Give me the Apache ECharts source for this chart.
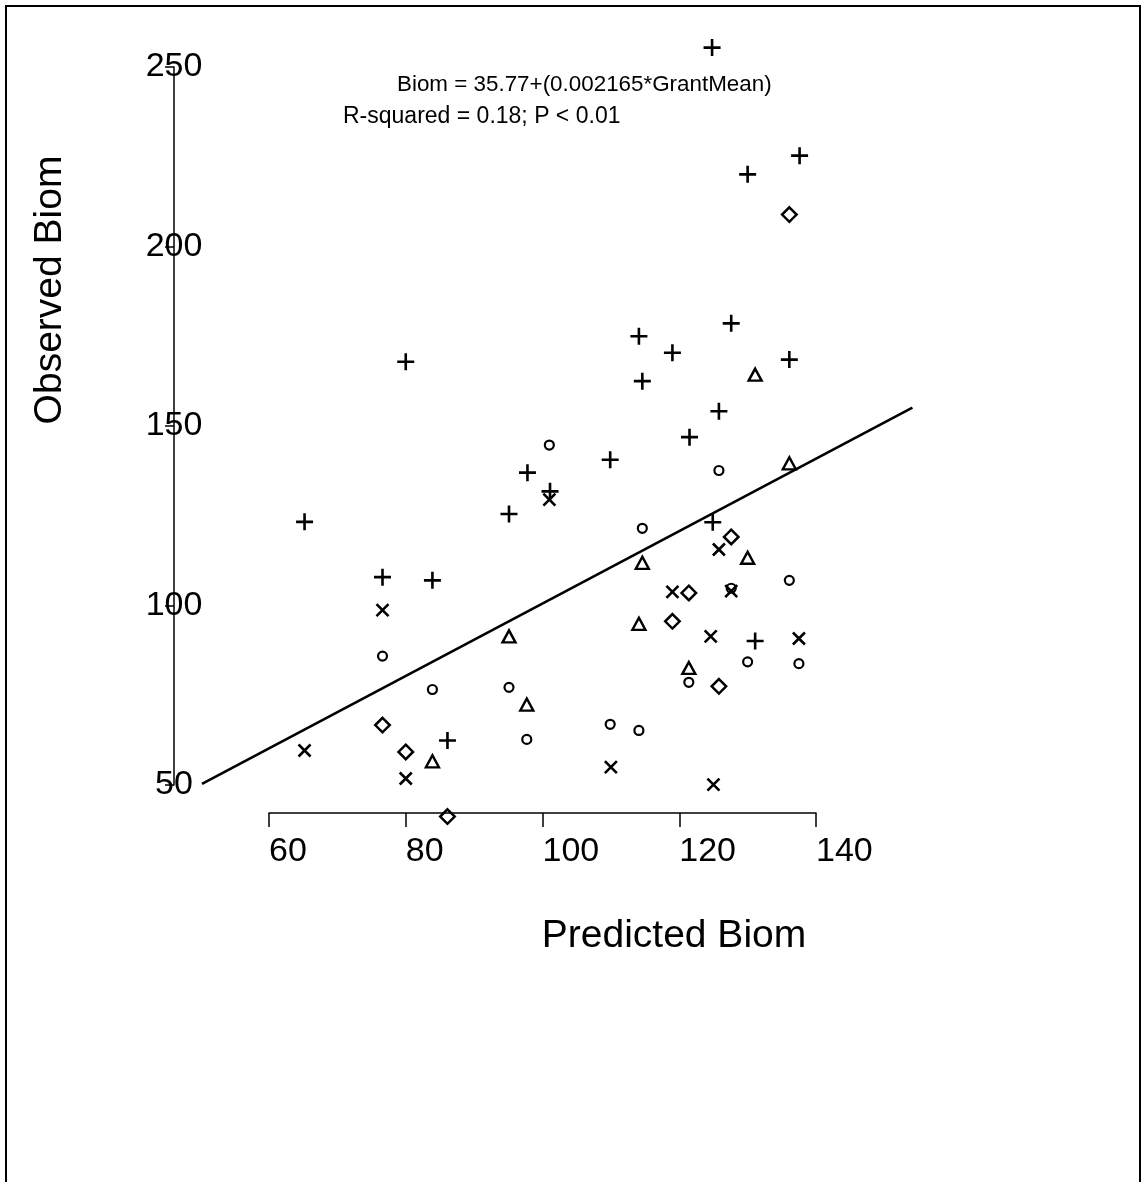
<!DOCTYPE html>
<html>
<head>
<meta charset="utf-8">
<title>Observed vs Predicted Biom</title>
<script src="https://cdn.jsdelivr.net/npm/echarts@6/dist/echarts.min.js"></script>
<style>
  html, body { margin: 0; padding: 0; background: #fff; }
  #myChart { width: 1147px; height: 1182px; }
</style>
</head>
<body>
<div id="myChart"></div>
<script>
// [predicted, observed] for each marker type
var plusPts = [
  [124.8, 255.4], [137.6, 225.3], [130.0, 220.1], [80.0, 167.9], [114.1, 175.0],
  [119.0, 170.4], [114.6, 162.5], [127.6, 178.6], [136.1, 168.5], [125.8, 154.1],
  [121.5, 146.9], [109.9, 140.6], [97.8, 137.0], [101.1, 131.8], [95.1, 125.5],
  [65.2, 123.3], [124.9, 123.2], [76.6, 107.9], [83.9, 107.0], [86.1, 62.4],
  [131.1, 90.1]
];
var crossPts = [
  [76.6, 98.7], [65.2, 59.6], [80.0, 51.8], [101.0, 129.5], [110.0, 55.0],
  [119.0, 103.8], [125.8, 115.6], [127.6, 104.0], [124.6, 91.4], [137.5, 90.8],
  [125.0, 50.1]
];
var circlePts = [
  [76.6, 85.9], [83.9, 76.6], [101.0, 144.7], [114.6, 121.5], [95.1, 77.2],
  [97.7, 62.7], [109.9, 66.9], [114.1, 65.2], [121.4, 78.6], [125.8, 137.6],
  [136.1, 107.0], [130.0, 84.3], [137.5, 83.8], [127.6, 104.8]
];
var diamondPts = [
  [76.6, 66.7], [80.0, 59.2], [86.1, 41.2], [119.0, 95.6], [121.4, 103.5],
  [127.6, 119.1], [125.8, 77.5], [136.1, 208.9]
];
var trianglePts = [
  [83.9, 56.6], [95.1, 91.4], [97.7, 72.4], [114.6, 111.9], [114.1, 94.9],
  [121.4, 82.6], [131.1, 164.3], [136.1, 139.6], [130.0, 113.3]
];
// fitted line, drawn past the ends of the axes
var fitLine = [[50.2, 50.3], [154.1, 155.1]];

var xTicks = [60, 80, 100, 120, 140];
var yTicks = [50, 100, 150, 200, 250];
// range of the hidden data axes (wider than the drawn axes)
var dataRangeX = [40, 160];
var dataRangeY = [40, 260];

var fontFam = '"Liberation Sans", Arial, sans-serif';

var myChart = echarts.init(document.getElementById('myChart'));

function markerSeries(data, symbol, size, bw) {
  return {
    type: 'scatter',
    xAxisIndex: 1,
    yAxisIndex: 1,
    data: data,
    symbol: symbol,
    symbolSize: size,
    clip: false,
    silent: true,
    itemStyle: { color: 'transparent', borderColor: '#000', borderWidth: bw, opacity: 1 }
  };
}

// same px per unit on both grids: x 6.8375, y 3.59
myChart.setOption({
  animation: false,
  backgroundColor: '#fff',
  grid: [
    { left: 269, right: 331, top: 67, bottom: 397 },
    { left: 132.25, right: 194.25, top: 31.1, bottom: 361.1 }
  ],
  xAxis: [{
    type: 'value',
    gridIndex: 0,
    min: xTicks[0],
    max: xTicks[xTicks.length - 1],
    interval: xTicks[1] - xTicks[0],
    offset: 28,
    splitLine: { show: false },
    axisLine: { show: true, lineStyle: { color: '#000', width: 1.5 } },
    axisTick: { show: true, length: 14, lineStyle: { color: '#000', width: 1.5 } },
    axisLabel: { color: '#000', fontSize: 34, fontFamily: fontFam, align: 'left', margin: 22 }
  }, {
    type: 'value',
    gridIndex: 1,
    show: false,
    min: dataRangeX[0],
    max: dataRangeX[1]
  }],
  yAxis: [{
    type: 'value',
    gridIndex: 0,
    min: yTicks[0],
    max: yTicks[yTicks.length - 1],
    interval: yTicks[1] - yTicks[0],
    offset: 95,
    splitLine: { show: false },
    axisLine: { show: true, lineStyle: { color: '#000', width: 1.5 } },
    axisTick: { show: true, length: 9, lineStyle: { color: '#000', width: 1.5 } },
    axisLabel: { color: '#000', fontSize: 34, fontFamily: fontFam, align: 'center', margin: 0 }
  }, {
    type: 'value',
    gridIndex: 1,
    show: false,
    min: dataRangeY[0],
    max: dataRangeY[1]
  }],
  graphic: [
    {
      type: 'rect',
      shape: { x: 6, y: 6, width: 1134, height: 1200 },
      style: { fill: 'none', stroke: '#000', lineWidth: 2 }
    },
    {
      type: 'text', x: 397, y: 85,
      style: { text: 'Biom = 35.77+(0.002165*GrantMean)', fill: '#000', font: '22.4px ' + fontFam,
               textAlign: 'left', textVerticalAlign: 'middle' }
    },
    {
      type: 'text', x: 343, y: 117,
      style: { text: 'R-squared = 0.18; P < 0.01', fill: '#000', font: '23px ' + fontFam,
               textAlign: 'left', textVerticalAlign: 'middle' }
    },
    {
      type: 'text', x: 50, y: 290, rotation: Math.PI / 2,
      style: { text: 'Observed Biom', fill: '#000', font: '39px ' + fontFam,
               textAlign: 'center', textVerticalAlign: 'middle' }
    },
    {
      type: 'text', x: 674, y: 936,
      style: { text: 'Predicted Biom', fill: '#000', font: '39px ' + fontFam,
               textAlign: 'center', textVerticalAlign: 'middle' }
    }
  ],
  series: [
    {
      type: 'line',
      xAxisIndex: 1,
      yAxisIndex: 1,
      data: fitLine,
      symbol: 'none',
      clip: false,
      silent: true,
      lineStyle: { color: '#000', width: 2.6 }
    },
    markerSeries(plusPts, 'path://M0,8H16M8,0V16', 17, 2.6),
    markerSeries(crossPts, 'path://M0,0L16,16M16,0L0,16', 12, 2.6),
    markerSeries(circlePts, 'circle', 9, 2.2),
    markerSeries(diamondPts, 'diamond', 14.5, 2.5),
    markerSeries(trianglePts, 'triangle', [13, 12], 2.4)
  ]
});
</script>
</body>
</html>
